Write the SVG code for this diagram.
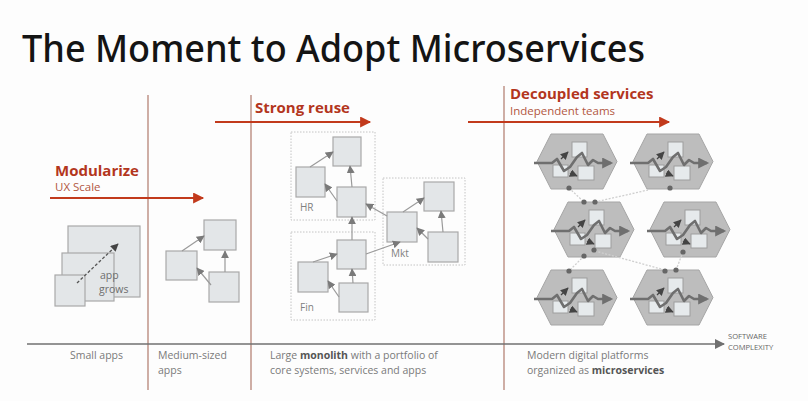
<svg xmlns="http://www.w3.org/2000/svg" xmlns:xlink="http://www.w3.org/1999/xlink" width="808" height="401" viewBox="0 0 808 401">
  <style>
    text { font-family: "Open Sans", "Noto Sans", "Liberation Sans", sans-serif; }
    .title { font-family: "Noto Sans", "Open Sans", sans-serif; font-size: 38px; font-weight: 500; fill: #141414; }
    .stage { font-size: 15px; font-weight: bold; fill: #b3361d; }
    .sub { font-size: 11.5px; fill: #b2573f; }
    .cap { font-size: 10.5px; fill: #7a7a7a; }
    .bold { font-weight: bold; fill: #555; }
    .axislbl { font-size: 7.6px; fill: #666; }
    .lbl { font-size: 10px; fill: #808080; }
    .grow { font-size: 10.5px; fill: #6e6e6e; }
    .divider { stroke: #b07a6c; stroke-width: 1.2; fill: none; }
    .redarrow { stroke: #c23a1c; stroke-width: 2; fill: none; }
    .box { fill: #e3e6e8; stroke: #a9a9a9; stroke-width: 1.2; }
    .dep { stroke: #9a9a9a; stroke-width: 1.2; fill: none; }
    .zone { fill: none; stroke: #c4c4c4; stroke-width: 1; stroke-dasharray: 1.5 1.5; }
    .link { stroke: #cfcfcf; stroke-width: 1.3; stroke-dasharray: 2 1.5; fill: none; }
    .hex { fill: #bdbdbd; stroke: #a5a5a5; stroke-width: 1; }
    .inner { fill: #e6eaec; stroke: #9e9e9e; stroke-width: 1; }
    .flow { stroke: #6f6f6f; stroke-width: 2.6; fill: none; stroke-linejoin: round; }
    .dot { fill: #666; }
  </style>
  <defs>
    <marker id="ahRed" viewBox="0 0 10 10" refX="9" refY="5" markerWidth="12" markerHeight="11" markerUnits="userSpaceOnUse" orient="auto">
      <path d="M0,0 L10,5 L0,10 z" fill="#c23a1c"/>
    </marker>
    <marker id="ahGray" viewBox="0 0 10 10" refX="9" refY="5" markerWidth="8" markerHeight="8" markerUnits="userSpaceOnUse" orient="auto">
      <path d="M0,0 L10,5 L0,10 z" fill="#7a7a7a"/>
    </marker>
    <marker id="ahDark" viewBox="0 0 10 10" refX="9" refY="5" markerWidth="8" markerHeight="8" markerUnits="userSpaceOnUse" orient="auto">
      <path d="M0,0 L10,5 L0,10 z" fill="#444"/>
    </marker>
    <marker id="ahAxis" viewBox="0 0 10 10" refX="9" refY="5" markerWidth="12" markerHeight="10" markerUnits="userSpaceOnUse" orient="auto">
      <path d="M0,0 L10,5 L0,10 z" fill="#707070"/>
    </marker>
    <marker id="ahFlow" viewBox="0 0 10 10" refX="8" refY="5" markerWidth="13" markerHeight="11" markerUnits="userSpaceOnUse" orient="auto">
      <path d="M0,0 L10,5 L0,10 z" fill="#6f6f6f"/>
    </marker>
    <!-- one microservice: hexagon, its components and the request flow through it -->
    <g id="service">
      <polygon class="hex" points="14,0 66,0 80,27.5 66,55 14,55 0,27.5"/>
      <rect class="inner" x="35" y="8" width="15" height="15"/>
      <rect class="inner" x="16" y="31" width="15" height="12"/>
      <rect class="inner" x="41" y="32" width="16" height="14"/>
      <path class="flow" d="M-3,29 L15,29 L20,25 L27,37 L33,33 L40,23 L45,19 L51,31 L56,26 L61,29 L74,29" marker-end="url(#ahFlow)"/>
      <line x1="24" y1="25" x2="31" y2="18" stroke="#444" stroke-width="1.3" marker-end="url(#ahDark)"/>
      <line x1="33" y1="39" x2="40" y2="42" stroke="#444" stroke-width="1.3" marker-end="url(#ahDark)"/>
    </g>
  </defs>

  <rect width="808" height="401" fill="#fdfdfd"/>

  <text class="title" x="22" y="62" textLength="623" lengthAdjust="spacingAndGlyphs">The Moment to Adopt Microservices</text>

  <!-- stage dividers -->
  <g id="dividers">
    <line class="divider" x1="148" y1="95" x2="148" y2="390"/>
    <line class="divider" x1="251" y1="95" x2="251" y2="390"/>
    <line class="divider" x1="504" y1="86" x2="504" y2="390"/>
  </g>

  <!-- complexity axis -->
  <g id="axis">
    <line x1="27" y1="344" x2="724" y2="344" stroke="#707070" stroke-width="1.5" marker-end="url(#ahAxis)"/>
    <text class="axislbl" x="728" y="339">SOFTWARE</text>
    <text class="axislbl" x="728" y="349.5">COMPLEXITY</text>
  </g>

  <!-- stage headings -->
  <g id="stage-modularize">
    <text class="stage" x="55" y="176">Modularize</text>
    <text class="sub" x="55" y="191">UX Scale</text>
    <line class="redarrow" x1="50" y1="198" x2="203" y2="198" marker-end="url(#ahRed)"/>
  </g>
  <g id="stage-reuse">
    <text class="stage" x="255" y="113">Strong reuse</text>
    <line class="redarrow" x1="215" y1="122" x2="370" y2="122" marker-end="url(#ahRed)"/>
  </g>
  <g id="stage-decoupled">
    <text class="stage" x="510" y="99">Decoupled services</text>
    <text class="sub" x="510" y="115">Independent teams</text>
    <line class="redarrow" x1="468" y1="122" x2="669" y2="122" marker-end="url(#ahRed)"/>
  </g>

  <!-- stage captions -->
  <g id="captions">
    <text class="cap" x="70" y="359">Small apps</text>
    <text class="cap" x="158" y="359">Medium-sized</text>
    <text class="cap" x="158" y="374">apps</text>
    <text class="cap" x="270" y="359">Large <tspan class="bold">monolith</tspan> with a portfolio of</text>
    <text class="cap" x="270" y="374">core systems, services and apps</text>
    <text class="cap" x="527" y="359">Modern digital platforms</text>
    <text class="cap" x="527" y="374">organized as <tspan class="bold">microservices</tspan></text>
  </g>

  <!-- small app growing -->
  <g id="small-app">
    <rect class="box" x="68" y="226" width="72" height="71"/>
    <rect class="box" x="62" y="253" width="52" height="48"/>
    <rect class="box" x="55" y="275" width="30" height="31"/>
    <line x1="77" y1="283" x2="118" y2="244" stroke="#555" stroke-width="1.3" stroke-dasharray="3 2" marker-end="url(#ahDark)"/>
    <text class="grow" x="100" y="279">app</text>
    <text class="grow" x="99" y="293">grows</text>
  </g>

  <!-- medium-sized app -->
  <g id="medium-a"><rect class="box" x="204" y="220" width="32" height="30"/></g>
  <g id="medium-b"><rect class="box" x="166" y="251" width="31" height="29"/></g>
  <g id="medium-c"><rect class="box" x="209" y="272" width="30" height="30"/></g>

  <!-- monolith domains -->
  <g id="domain-hr">
    <rect class="zone" x="291" y="132" width="84" height="88"/>
    <text class="lbl" x="300" y="211">HR</text>
  </g>
  <g id="domain-fin">
    <rect class="zone" x="291" y="232" width="84" height="88"/>
    <text class="lbl" x="300" y="311">Fin</text>
  </g>
  <g id="domain-mkt">
    <rect class="zone" x="383" y="178" width="82" height="87"/>
    <text class="lbl" x="391" y="257">Mkt</text>
  </g>
  <g id="hr-1"><rect class="box" x="333" y="137" width="28" height="29"/></g>
  <g id="hr-2"><rect class="box" x="296" y="167" width="29" height="30"/></g>
  <g id="hr-3"><rect class="box" x="337" y="187" width="29" height="30"/></g>
  <g id="fin-1"><rect class="box" x="337" y="240" width="29" height="29"/></g>
  <g id="fin-2"><rect class="box" x="298" y="262" width="30" height="30"/></g>
  <g id="fin-3"><rect class="box" x="339" y="283" width="29" height="29"/></g>
  <g id="mkt-1"><rect class="box" x="424" y="182" width="30" height="29"/></g>
  <g id="mkt-2"><rect class="box" x="387" y="212" width="30" height="30"/></g>
  <g id="mkt-3"><rect class="box" x="428" y="232" width="30" height="30"/></g>

  <!-- microservices -->
  <g id="svc-1"><use xlink:href="#service" transform="translate(537,134)"/></g>
  <g id="svc-2"><use xlink:href="#service" transform="translate(633,134)"/></g>
  <g id="svc-3"><use xlink:href="#service" transform="translate(554,202)"/></g>
  <g id="svc-4"><use xlink:href="#service" transform="translate(650,202)"/></g>
  <g id="svc-5"><use xlink:href="#service" transform="translate(537,270)"/></g>
  <g id="svc-6"><use xlink:href="#service" transform="translate(633,270)"/></g>

  <!-- connectors -->
  <g id="connectors">
    <!-- medium-sized app -->
    <line class="dep" x1="182" y1="251" x2="204" y2="236" marker-end="url(#ahGray)"/>
    <line class="dep" x1="225" y1="272" x2="225" y2="251" marker-end="url(#ahGray)"/>
    <line class="dep" x1="211" y1="285" x2="197" y2="268" marker-end="url(#ahGray)"/>
    <!-- monolith -->
    <line class="dep" x1="310" y1="167" x2="333" y2="152" marker-end="url(#ahGray)"/>
    <line class="dep" x1="352" y1="187" x2="350" y2="166" marker-end="url(#ahGray)"/>
    <line class="dep" x1="337" y1="201" x2="325" y2="184" marker-end="url(#ahGray)"/>
    <line class="dep" x1="352" y1="240" x2="352" y2="217" marker-end="url(#ahGray)"/>
    <line class="dep" x1="387" y1="216" x2="366" y2="204" marker-end="url(#ahGray)"/>
    <line class="dep" x1="313" y1="262" x2="337" y2="254" marker-end="url(#ahGray)"/>
    <line class="dep" x1="353" y1="283" x2="352" y2="269" marker-end="url(#ahGray)"/>
    <line class="dep" x1="339" y1="297" x2="328" y2="281" marker-end="url(#ahGray)"/>
    <line class="dep" x1="366" y1="254" x2="400" y2="242" marker-end="url(#ahGray)"/>
    <line class="dep" x1="403" y1="212" x2="424" y2="198" marker-end="url(#ahGray)"/>
    <line class="dep" x1="443" y1="232" x2="441" y2="211" marker-end="url(#ahGray)"/>
    <line class="dep" x1="428" y1="239" x2="417" y2="228" marker-end="url(#ahGray)"/>
    <!-- between services -->
    <line class="link" x1="569" y1="188" x2="584" y2="202"/>
    <line class="link" x1="595" y1="202" x2="648" y2="190"/>
    <line class="link" x1="584" y1="256" x2="569" y2="271"/>
    <line class="link" x1="595" y1="251" x2="665" y2="270"/>
    <line class="link" x1="683" y1="252" x2="676" y2="270"/>
    <circle class="dot" cx="569" cy="188" r="2.6"/>
    <circle class="dot" cx="670" cy="188" r="2.6"/>
    <circle class="dot" cx="584" cy="202" r="2.6"/>
    <circle class="dot" cx="595" cy="202" r="2.6"/>
    <circle class="dot" cx="584" cy="256" r="2.6"/>
    <circle class="dot" cx="594" cy="250" r="2.6"/>
    <circle class="dot" cx="683" cy="252" r="2.6"/>
    <circle class="dot" cx="569" cy="271" r="2.6"/>
    <circle class="dot" cx="665" cy="271" r="2.6"/>
    <circle class="dot" cx="676" cy="270" r="2.6"/>
  </g>
</svg>
